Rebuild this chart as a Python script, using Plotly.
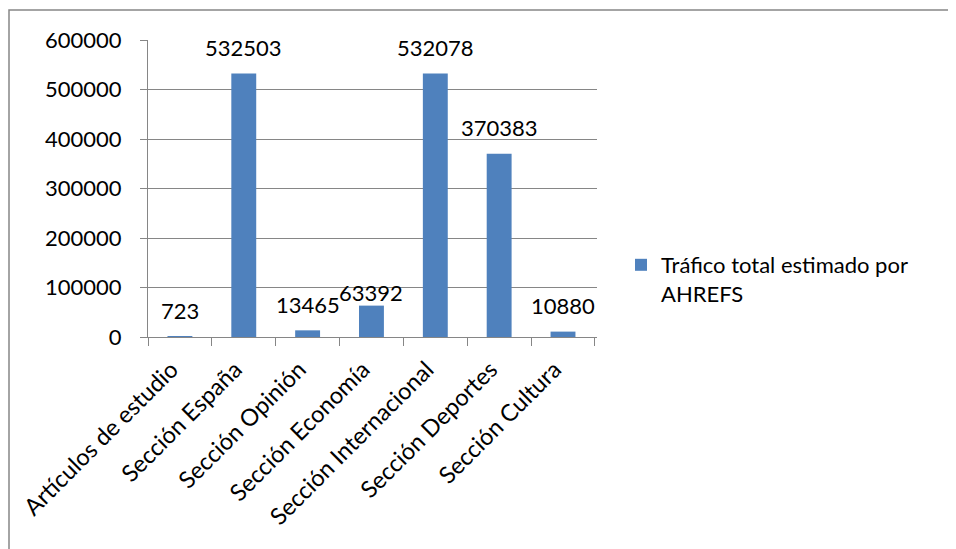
import plotly.graph_objects as go

categories = ["Artículos de estudio", "Sección España", "Sección Opinión", "Sección Economía",
              "Sección Internacional", "Sección Deportes", "Sección Cultura"]
values = [723, 532503, 13465, 63392, 532078, 370383, 10880]
series_name = "Tráfico total estimado por<br>AHREFS"
y_ticks = [0, 100000, 200000, 300000, 400000, 500000, 600000]

FONT = "Lato"
GRAY = "#868686"
BLUE = "#4F81BD"
OFF = 8  # page body margin

fig = go.Figure()
fig.add_trace(go.Bar(x=categories, y=values, name=series_name, marker_color=BLUE,
                     marker_line_width=0, showlegend=True))

annotations = []
for c, v in zip(categories, values):
    ys = 13 if c == "Sección Economía" else 26
    annotations.append(dict(x=c, y=v, text=str(v), showarrow=False, xref="x", yref="y",
                            yanchor="middle", xanchor="center", yshift=ys,
                            font=dict(family=FONT, size=22, color="black")))

W, H = 956 - OFF, 549 - OFF
L, R, T, B = 148 - OFF, 597 - OFF, 40 - OFF, 337 - OFF
pw, ph = R - L, B - T

def px(x):
    return (x - OFF - L) / pw

def py(y):
    return (B - (y - OFF)) / ph

fig.update_layout(
    width=W, height=H,
    margin=dict(l=L, r=W - R, t=T, b=H - B, autoexpand=False),
    paper_bgcolor="white", plot_bgcolor="white",
    bargap=0.61,
    font=dict(family=FONT, size=22, color="black"),
    annotations=annotations,
    showlegend=True,
    legend=dict(x=px(621), y=py(244), xanchor="left", yanchor="top", valign="top",
                font=dict(family=FONT, size=22, color="black"), bgcolor="rgba(0,0,0,0)",
                tracegroupgap=0),
    shapes=[dict(type="rect", xref="paper", yref="paper",
                 x0=px(9), x1=px(990), y0=py(580), y1=py(10),
                 line=dict(color=GRAY, width=1.5), layer="below")],
    xaxis=dict(type="category", showline=True, linecolor=GRAY, linewidth=1,
               ticks="outside", tickson="boundaries", ticklen=8, tickcolor=GRAY,
               tickangle=-45, tickfont=dict(family=FONT, size=23.5, color="black"),
               tickvals=categories, ticktext=[c + "\u00a0\u00a0" for c in categories],
               ticklabelstandoff=0,
               showgrid=False, zeroline=False, fixedrange=True),
    yaxis=dict(range=[0, 600000], tickvals=y_ticks, ticktext=[str(t) for t in y_ticks],
               showline=True, linecolor=GRAY, linewidth=1, ticks="outside", ticklen=7,
               tickcolor=GRAY, showgrid=True, gridcolor=GRAY, gridwidth=1, zeroline=False,
               ticklabelstandoff=14,
               tickfont=dict(family=FONT, size=22, color="black"), fixedrange=True),
)

fig.write_html("out.html")
